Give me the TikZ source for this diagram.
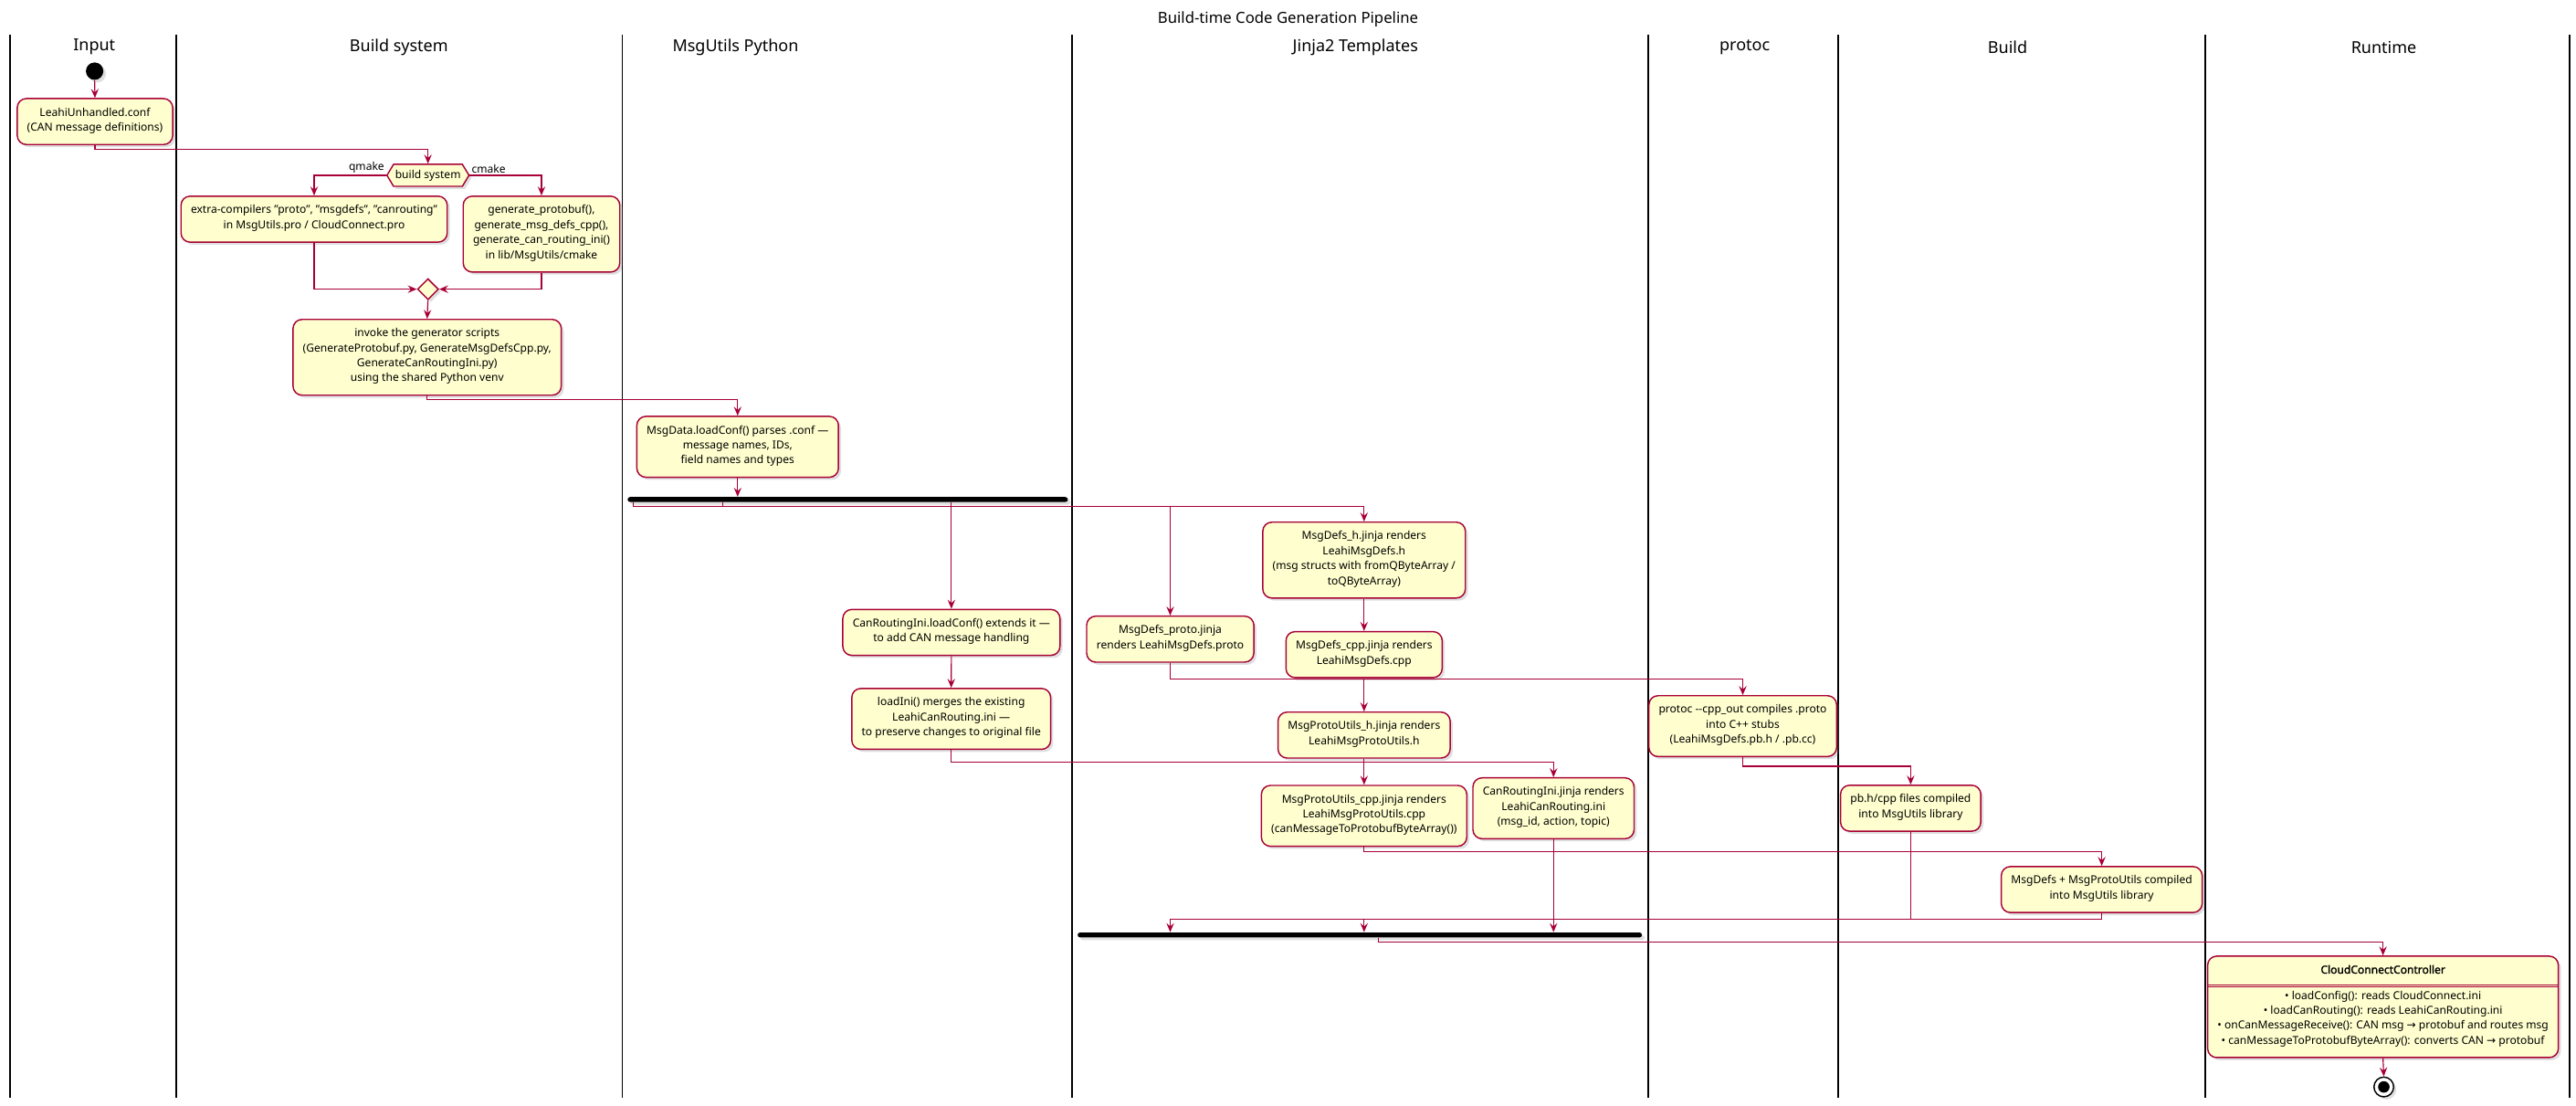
\documentclass[tikz,border=0pt]{standalone}
\usepackage{fontspec}
\setmainfont{Noto Sans}[AutoFakeBold=1.6]
\newfontfamily\arrowfont{DejaVu Sans}
\usetikzlibrary{arrows.meta}
\usetikzlibrary{shapes.geometric}
\usetikzlibrary{shapes.symbols}
\usetikzlibrary{shadows}

\definecolor{umlred}{HTML}{A80036}
\definecolor{umlfill}{HTML}{FEFECE}
\newcommand\bodyfont{\fontsize{6.7}{9.1}\selectfont}
\newcommand\rarr{{\arrowfont →}}

\tikzset{
  umlshadow/.style={drop shadow={shadow xshift=1.6pt, shadow yshift=-1.6pt, opacity=.25}},
  act/.style={draw=umlred, fill=umlfill, line width=.8pt, rounded corners=5.5pt,
    align=center, font=\bodyfont, inner xsep=6pt, inner ysep=5.5pt, anchor=north,
    execute at begin node=\strut, execute at end node=\strut, umlshadow},
  flow/.style={draw=umlred, line width=.65pt, -{Stealth[length=5.5pt, width=4.6pt, inset=2pt]}},
  wire/.style={draw=umlred, line width=.65pt},
  lane/.style={line width=1pt},
  lanehead/.style={font=\fontsize{10}{12}\selectfont},
  syncbar/.style={fill=black, rounded corners=1.5pt, minimum height=3pt, inner sep=0pt, umlshadow},
}

\begin{document}
\begin{tikzpicture}[x=1pt, y=-1pt]
  \useasboundingbox (0,0) rectangle (1568,673);
  \node[font=\fontsize{9.3}{11}\selectfont] (title) at (784,11.5) {Build-time Code Generation Pipeline};
  \foreach \x in {6, 107.4, 378.8, 652.6, 1003.4, 1119, 1342.5, 1564}{
    \draw[lane] (\x,21) -- (\x,668);
  }
  \foreach \x/\t [count=\i] in {57.4/Input, 242.8/Build system, 447.7/MsgUtils Python,
      825/Jinja2 Templates, 1062/protoc, 1222/Build, 1451/Runtime}{
    \node[lanehead] (lane\i) at (\x,28.7) {\t};
  }

  % input and build system
  \node[circle, fill=black, minimum size=10.6pt, inner sep=0pt, umlshadow] (start) at (57.6,43.3) {};
  \node[act] (conf) at (57.8,59.6) {LeahiUnhandled.conf\\(CAN message definitions)};
  \node[signal, signal to=west and east, signal pointer angle=118, draw=umlred, fill=umlfill,
    line width=.8pt, font=\bodyfont, minimum width=49pt, minimum height=13.4pt,
    inner xsep=1pt, inner ysep=0pt, umlshadow] (bsys) at (260.5,106.7) {build system};
  \node[font=\bodyfont, anchor=south east, inner sep=1pt] (qlbl) at (bsys.west) {qmake};
  \node[font=\bodyfont, anchor=south west, inner sep=1pt] (clbl) at (bsys.east) {cmake};
  \node[act] (qmk) at (191.2,119) {extra-compilers "proto", "msgdefs", "canrouting"\\in MsgUtils.pro / CloudConnect.pro};
  \node[act] (cmk) at (329.6,119) {generate\_protobuf(),\\generate\_msg\_defs\_cpp(),\\generate\_can\_routing\_ini()\\in lib/MsgUtils/cmake};
  \node[diamond, draw=umlred, fill=umlfill, line width=.8pt, minimum size=12.8pt,
    inner sep=0pt, umlshadow] (merge) at (260.5,176) {};
  \node[act] (invoke) at (260,194) {invoke the generator scripts\\(GenerateProtobuf.py, GenerateMsgDefsCpp.py,\\GenerateCanRoutingIni.py)\\using the shared Python venv};

  % python side
  \node[act] (msgdata) at (449,253) {MsgData.loadConf() parses .conf —\\message names, IDs,\\field names and types};
  \node[syncbar, minimum width=268pt] (fork) at (516,304) {};
  \node[act] (canini) at (579.1,370.5) {CanRoutingIni.loadConf() extends it —\\to add CAN message handling};
  \node[act] (loadini) at (579,418.6) {loadIni() merges the existing\\LeahiCanRouting.ini —\\to preserve changes to original file};

  % templates
  \node[act] (proto) at (712.3,374.6) {MsgDefs\_proto.jinja\\renders LeahiMsgDefs.proto};
  \node[act] (defsh) at (830.3,317.4) {MsgDefs\_h.jinja renders\\LeahiMsgDefs.h\\(msg structs with fromQByteArray /\\toQByteArray)};
  \node[act] (defscpp) at (830.3,384) {MsgDefs\_cpp.jinja renders\\LeahiMsgDefs.cpp};
  \node[act] (utilsh) at (830.3,433) {MsgProtoUtils\_h.jinja renders\\LeahiMsgProtoUtils.h};
  \node[act] (utilscpp) at (830.3,477.6) {MsgProtoUtils\_cpp.jinja renders\\LeahiMsgProtoUtils.cpp\\(canMessageToProtobufByteArray())};
  \node[act] (routini) at (945.6,473) {CanRoutingIni.jinja renders\\LeahiCanRouting.ini\\(msg\_id, action, topic)};
  \node[syncbar, minimum width=343.5pt] (join) at (827.7,569) {};

  % protoc, build, runtime
  \node[act] (protoc) at (1060.8,423) {protoc -{}-cpp\_out compiles .proto\\into C++ stubs\\(LeahiMsgDefs.pb.h / .pb.cc)};
  \node[act] (pbcomp) at (1163,477.5) {pb.h/cpp files compiled\\into MsgUtils library};
  \node[act] (libmsg) at (1279.3,527) {MsgDefs + MsgProtoUtils compiled\\into MsgUtils library};
  \node[act] (ctrl) at (1450.5,581.5) {\textbf{CloudConnectController}\\[6.5pt]
    • loadConfig(): reads CloudConnect.ini\\
    • loadCanRouting(): reads LeahiCanRouting.ini\\
    • onCanMessageReceive(): CAN msg \rarr{} protobuf and routes msg\\
    • canMessageToProtobufByteArray(): converts CAN \rarr{} protobuf};
  \draw[umlred, line width=.5pt] ([yshift=-17.9pt]ctrl.north west) -- ([yshift=-17.9pt]ctrl.north east);
  \draw[umlred, line width=.5pt] ([yshift=-19.3pt]ctrl.north west) -- ([yshift=-19.3pt]ctrl.north east);
  \node[circle, draw=black, fill=white, line width=.8pt, minimum size=12pt, inner sep=0pt, umlshadow] (stop) at (1451,661.5) {};
  \node[circle, fill=black, minimum size=7pt, inner sep=0pt] (stopdot) at (stop) {};

  % connectors
  \draw[flow] (start.south) -- (conf.north);
  \draw[flow] (conf.south) -- ++(0,2.6) -| (bsys.north);
  \draw[flow] (bsys.west) -| (qmk.north);
  \draw[flow] (bsys.east) -| (cmk.north);
  \draw[flow] (qmk.south) |- (merge.west);
  \draw[flow] (cmk.south) |- (merge.east);
  \draw[flow] (merge.south) -- (invoke.north);
  \draw[flow] (invoke.south) -- ++(0,2.3) -| (msgdata.north);
  \draw[flow] (msgdata.south) -- (msgdata.south |- fork.north);
  \coordinate (fk) at (385.5,308.3);
  \coordinate (fk2) at (440,308.3);
  \draw[wire] (fk |- fork.south) -- (fk);
  \draw[wire] (fk2 |- fork.south) -- (fk2);
  \draw[flow] (fk) -| (defsh.north);
  \draw[flow] (canini.north |- fork.south) -- (canini.north);
  \draw[flow] (proto.north |- fk) -- (proto.north);
  \draw[flow] (canini.south) -- (loadini.north);
  \draw[flow] (loadini.south) -- ++(0,7.3) -| (routini.north);
  \draw[flow] (proto.south) -- ++(0,10) -| (protoc.north);
  \draw[flow] (defsh.south) -- (defscpp.north);
  \draw[flow] (defscpp.south) -- (utilsh.north);
  \draw[flow] (utilsh.south) -- (utilscpp.north);
  \draw[flow] (utilscpp.south) -- ++(0,3) -| (libmsg.north);
  \draw[flow] (protoc.south) -- ++(0,5.5) -| (pbcomp.north);
  \coordinate (jn) at (712.3,559.5);
  \draw[flow] (libmsg.south) |- (jn) -- (jn |- join.north);
  \draw[wire] (pbcomp.south) -- (pbcomp.south |- jn);
  \draw[flow] (jn -| utilscpp.south) -- (utilscpp.south |- join.north);
  \draw[flow] (routini.south) -- (routini.south |- join.north);
  \draw[flow] ([xshift=11.3pt]join.south) -- ++(0,2.5) -| (ctrl.north);
  \draw[flow] (ctrl.south) -- (stop.north);
\end{tikzpicture}
\end{document}
